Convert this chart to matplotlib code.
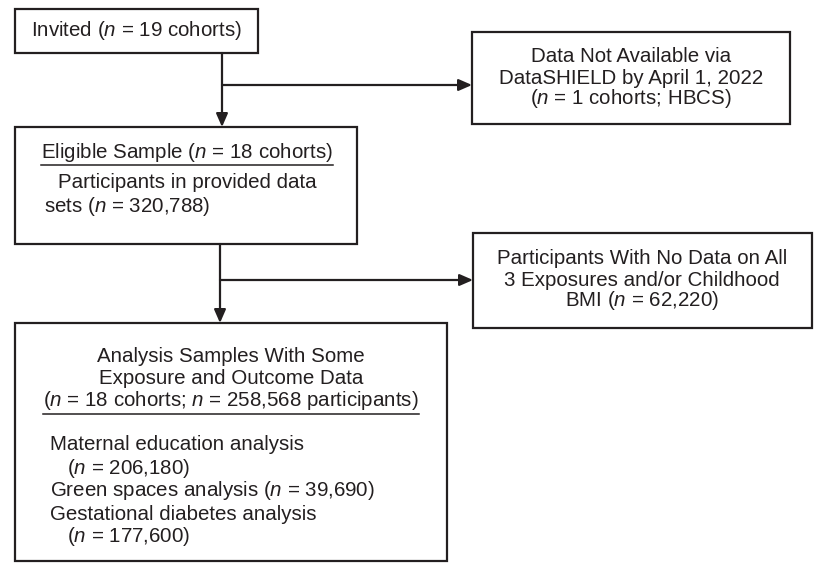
import matplotlib
matplotlib.use('Agg')
import matplotlib.pyplot as plt
from matplotlib.patches import Rectangle

plt.rcParams['font.family'] = ['Liberation Sans', 'DejaVu Sans']
plt.rcParams['mathtext.fontset'] = 'custom'
plt.rcParams['mathtext.rm'] = 'Liberation Sans'
plt.rcParams['mathtext.it'] = 'Liberation Sans:italic'

N = r'$\it{n}$'

# texts of the flow diagram
invited = 'Invited (' + N + ' = 19 cohorts)'
not_available = ['Data Not Available via',
                 'DataSHIELD by April 1, 2022',
                 '(' + N + ' = 1 cohorts; HBCS)']
eligible_title = 'Eligible Sample (' + N + ' = 18 cohorts)'
eligible_lines = ['Participants in provided data',
                  'sets (' + N + ' = 320,788)']
no_data = ['Participants With No Data on All',
           '3 Exposures and/or Childhood',
           'BMI (' + N + ' = 62,220)']
analysis_title = ['Analysis Samples With Some',
                  'Exposure and Outcome Data']
analysis_total = '(' + N + ' = 18 cohorts; ' + N + ' = 258,568 participants)'
analysis_items = ['Maternal education analysis',
                  '   (' + N + ' = 206,180)',
                  'Green spaces analysis (' + N + ' = 39,690)',
                  'Gestational diabetes analysis',
                  '   (' + N + ' = 177,600)']

COL = '#231f20'
FS = 14.8

fig = plt.figure(figsize=(8.15, 5.63), dpi=100)
ax = fig.add_axes([0, 0, 1, 1])
ax.set_xlim(0, 815)
ax.set_ylim(563, 0)
ax.axis('off')


def box(x0, y0, x1, y1):
    ax.add_patch(Rectangle((x0, y0), x1 - x0, y1 - y0, fill=False,
                           edgecolor=COL, lw=1.6, zorder=2))


def txt(x, y, s, ha='center'):
    return ax.text(x, y, s, ha=ha, va='center', fontsize=FS, color=COL)


def arrow(x0, y0, x1, y1):
    ax.annotate('', xy=(x1, y1), xytext=(x0, y0),
                arrowprops=dict(arrowstyle='-|>,head_length=0.8,head_width=0.35',
                                color=COL, lw=1.6, shrinkA=0, shrinkB=0))


def underline(t):
    fig.canvas.draw()
    bb = t.get_window_extent().transformed(ax.transData.inverted())
    ax.plot([bb.x0, bb.x1], [bb.y0 + 1, bb.y0 + 1], color=COL, lw=1.1)


# boxes
box(15, 9, 258, 53)
box(472, 32, 790, 124)
box(15, 127, 357, 244)
box(473, 233, 812, 328)
box(15, 323, 447, 561)

# connectors
arrow(222, 53, 222, 127)
arrow(222, 85, 472, 85)
arrow(220, 244, 220, 323)
arrow(220, 280, 473, 280)

# box texts
txt(136, 30, invited)
for i, s in enumerate(not_available):
    txt(631, 57 + i * 21, s)
t = txt(187, 152, eligible_title)
underline(t)
txt(187, 183, eligible_lines[0])
txt(44, 206, eligible_lines[1], ha='left')
for i, s in enumerate(no_data):
    txt(642, 259 + i * 21, s)
for i, s in enumerate(analysis_title):
    txt(231, 356 + i * 23, s)
t = txt(231, 401, analysis_total)
underline(t)
for i, s in enumerate(analysis_items):
    txt(50, 445 + i * 23, s, ha='left')

fig.savefig('out.png', dpi=100)
